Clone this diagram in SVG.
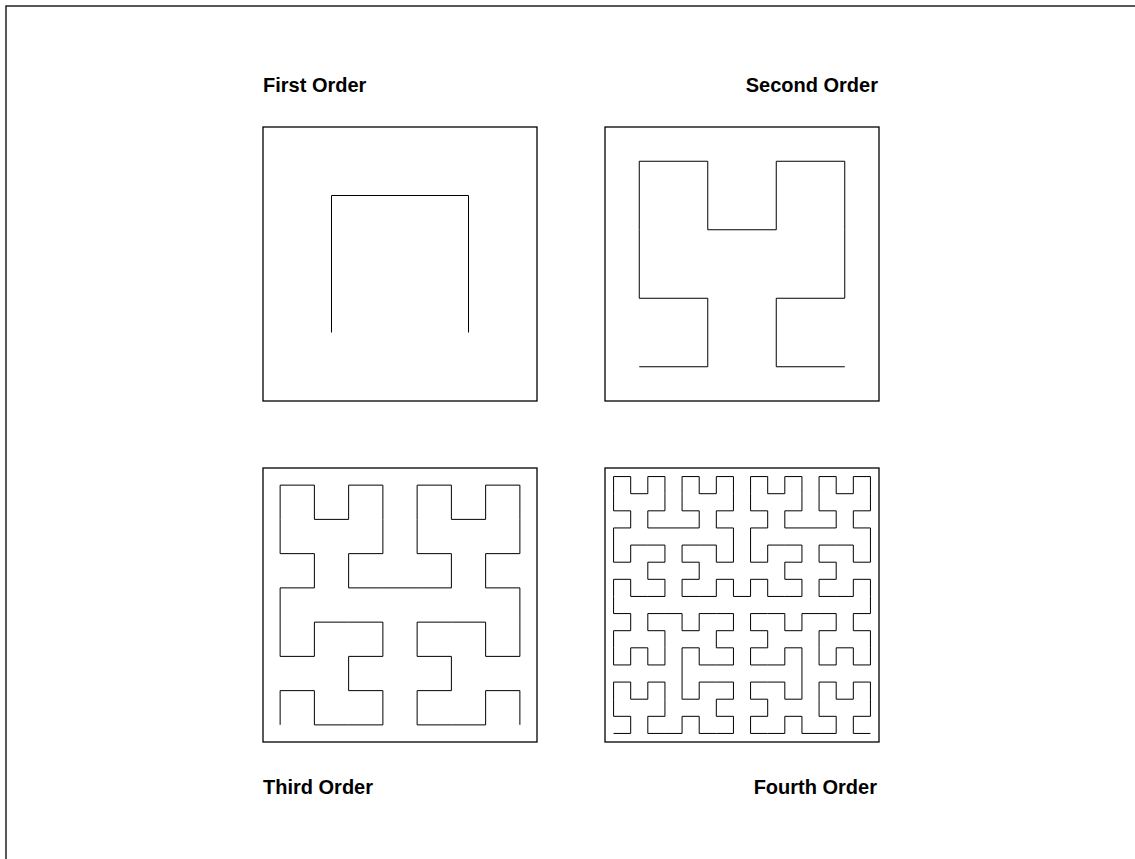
<svg xmlns="http://www.w3.org/2000/svg" width="1135" height="859" viewBox="0 0 1135 859">
<style>
.frame{fill:none;stroke:#222;stroke-width:1.5}
.box{fill:none;stroke:#000;stroke-width:1.3}
.curve{fill:none;stroke:#000;stroke-width:1;vector-effect:non-scaling-stroke;stroke-linejoin:miter}
.lbl{font-family:"Liberation Sans",Arial,sans-serif;font-weight:bold;font-size:20px;fill:#000}
</style>
<rect width="1135" height="859" fill="#fff"/>
<rect class="frame" x="6" y="6" width="1200" height="1000"/>
<g id="order1">
<rect class="box" x="263" y="127" width="274" height="274"/>
<polyline class="curve" transform="translate(331.5,332.5) scale(137,-137)" points="0,0 0,1 1,1 1,0"/>
<text class="lbl" x="263" y="92">First Order</text>
</g>
<g id="order2">
<rect class="box" x="605" y="127" width="274" height="274"/>
<polyline class="curve" transform="translate(639.25,366.75) scale(68.5,-68.5)" points="0,0 1,0 1,1 0,1 0,2 0,3 1,3 1,2 2,2 2,3 3,3 3,2 3,1 2,1 2,0 3,0"/>
<text class="lbl" x="878" y="92" text-anchor="end">Second Order</text>
</g>
<g id="order3">
<rect class="box" x="263" y="468" width="274" height="274"/>
<polyline class="curve" transform="translate(280.125,724.875) scale(34.25,-34.25)" points="0,0 0,1 1,1 1,0 2,0 3,0 3,1 2,1 2,2 3,2 3,3 2,3 1,3 1,2 0,2 0,3 0,4 1,4 1,5 0,5 0,6 0,7 1,7 1,6 2,6 2,7 3,7 3,6 3,5 2,5 2,4 3,4 4,4 5,4 5,5 4,5 4,6 4,7 5,7 5,6 6,6 6,7 7,7 7,6 7,5 6,5 6,4 7,4 7,3 7,2 6,2 6,3 5,3 4,3 4,2 5,2 5,1 4,1 4,0 5,0 6,0 6,1 7,1 7,0"/>
<text class="lbl" x="263" y="794">Third Order</text>
</g>
<g id="order4">
<rect class="box" x="605" y="468" width="274" height="274"/>
<polyline class="curve" transform="translate(613.5625,733.4375) scale(17.125,-17.125)" points="0,0 1,0 1,1 0,1 0,2 0,3 1,3 1,2 2,2 2,3 3,3 3,2 3,1 2,1 2,0 3,0 4,0 4,1 5,1 5,0 6,0 7,0 7,1 6,1 6,2 7,2 7,3 6,3 5,3 5,2 4,2 4,3 4,4 4,5 5,5 5,4 6,4 7,4 7,5 6,5 6,6 7,6 7,7 6,7 5,7 5,6 4,6 4,7 3,7 2,7 2,6 3,6 3,5 3,4 2,4 2,5 1,5 1,4 0,4 0,5 0,6 1,6 1,7 0,7 0,8 0,9 1,9 1,8 2,8 3,8 3,9 2,9 2,10 3,10 3,11 2,11 1,11 1,10 0,10 0,11 0,12 1,12 1,13 0,13 0,14 0,15 1,15 1,14 2,14 2,15 3,15 3,14 3,13 2,13 2,12 3,12 4,12 5,12 5,13 4,13 4,14 4,15 5,15 5,14 6,14 6,15 7,15 7,14 7,13 6,13 6,12 7,12 7,11 7,10 6,10 6,11 5,11 4,11 4,10 5,10 5,9 4,9 4,8 5,8 6,8 6,9 7,9 7,8 8,8 8,9 9,9 9,8 10,8 11,8 11,9 10,9 10,10 11,10 11,11 10,11 9,11 9,10 8,10 8,11 8,12 9,12 9,13 8,13 8,14 8,15 9,15 9,14 10,14 10,15 11,15 11,14 11,13 10,13 10,12 11,12 12,12 13,12 13,13 12,13 12,14 12,15 13,15 13,14 14,14 14,15 15,15 15,14 15,13 14,13 14,12 15,12 15,11 15,10 14,10 14,11 13,11 12,11 12,10 13,10 13,9 12,9 12,8 13,8 14,8 14,9 15,9 15,8 15,7 14,7 14,6 15,6 15,5 15,4 14,4 14,5 13,5 13,4 12,4 12,5 12,6 13,6 13,7 12,7 11,7 11,6 10,6 10,7 9,7 8,7 8,6 9,6 9,5 8,5 8,4 9,4 10,4 10,5 11,5 11,4 11,3 11,2 10,2 10,3 9,3 8,3 8,2 9,2 9,1 8,1 8,0 9,0 10,0 10,1 11,1 11,0 12,0 13,0 13,1 12,1 12,2 12,3 13,3 13,2 14,2 14,3 15,3 15,2 15,1 14,1 14,0 15,0"/>
<text class="lbl" x="877" y="794" text-anchor="end">Fourth Order</text>
</g>
</svg>
